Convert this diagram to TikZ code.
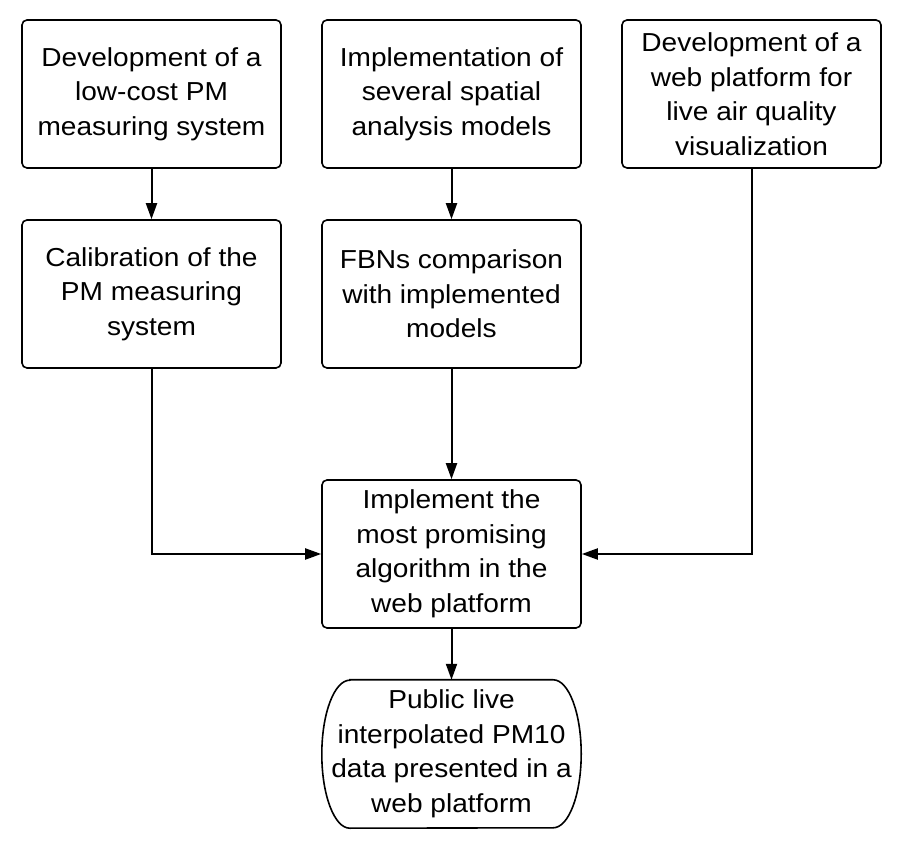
\documentclass[tikz,border=0pt]{standalone}
\usepackage{fontspec}
\setmainfont{Liberation Sans}[FakeStretch=1.08]
\usetikzlibrary{arrows.meta}
\begin{document}
\begin{tikzpicture}[x=1pt,y=1pt,
  stepbox/.style={draw, line width=1.6pt, rounded corners=5pt, minimum width=259pt, minimum height=148pt, inner sep=0pt, align=center, font=\fontsize{26}{34.5}\selectfont},
  termbox/.style={minimum width=259pt, minimum height=148pt, inner sep=0pt, align=center, font=\fontsize{26}{34.5}\selectfont},
  arr/.style={line width=2pt, -{Triangle[length=16pt,width=11pt]}}]
\fill[white] (0,0) rectangle (909,848);
\useasboundingbox (0,0) rectangle (909,848);
\node[stepbox] (b1) at (151.5,754) {Development of a\\low-cost PM\\measuring system};
\node[stepbox] (b2) at (451.5,754) {Implementation of\\several spatial\\analysis models};
\node[stepbox] (b3) at (751.5,754) {Development of a\\web platform for\\live air quality\\visualization};
\node[stepbox] (b4) at (151.5,554) {Calibration of the\\PM measuring\\system};
\node[stepbox] (b5) at (451.5,554) {FBNs comparison\\with implemented\\models};
\node[stepbox] (b6) at (451.5,294) {Implement the\\most promising\\algorithm in the\\web platform};
\node[termbox] (t) at (451.5,94) {Public live\\interpolated PM10\\data presented in a\\web platform};
\draw[line width=1.6pt] ([xshift=28pt]t.north west) -- ([xshift=-28pt]t.north east)
  arc[start angle=90,end angle=-90,x radius=28pt,y radius=74pt]
  -- ([xshift=28pt]t.south west)
  arc[start angle=270,end angle=90,x radius=28pt,y radius=74pt] -- cycle;
\draw[arr] (b1.south) -- (b4.north);
\draw[arr] (b2.south) -- (b5.north);
\draw[arr] (b5.south) -- (b6.north);
\draw[arr] (b4.south) |- (b6.west);
\draw[arr] (b3.south) |- (b6.east);
\draw[arr] (b6.south) -- (t.north);
\end{tikzpicture}
\end{document}
